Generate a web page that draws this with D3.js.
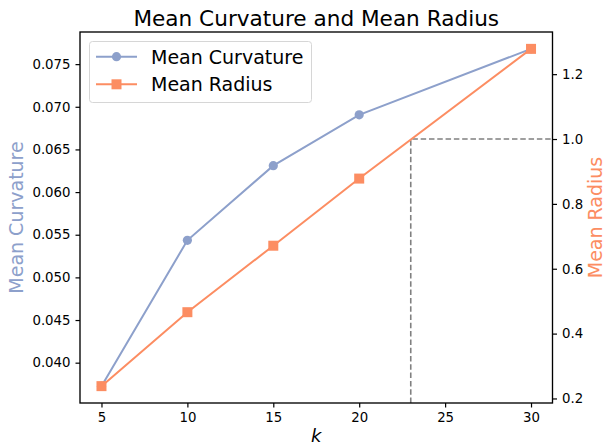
<!DOCTYPE html>
<html>
<head>
<meta charset="utf-8">
<title>Mean Curvature and Mean Radius</title>
<script src="https://d3js.org/d3.v7.min.js"></script>
<style>
  body { margin: 0; background: #fff; }
  text { font-family: "DejaVu Sans", sans-serif; }
</style>
</head>
<body>
<script>
// data
const kValues = [5, 10, 15, 20, 30];
const meanCurvature = [0.03725, 0.05434, 0.0631, 0.06906, 0.07679];
const meanRadius = [0.238, 0.466, 0.671, 0.878, 1.278];
const xTicks = [5, 10, 15, 20, 25, 30];
const leftTicks = [0.040, 0.045, 0.050, 0.055, 0.060, 0.065, 0.070, 0.075];
const rightTicks = [0.2, 0.4, 0.6, 0.8, 1.0, 1.2];
const markK = 23, markR = 1.0;

const blue = "#8da0cb", orange = "#fc8d62";
const W = 606, H = 446;
const axLeft = 80, axRight = 552.5, axTop = 32, axBottom = 403;

const svg = d3.select("body").append("svg").attr("width", W).attr("height", H);

// matplotlib style 5% margins
function pad(ext) { let d = ext[1] - ext[0]; return [ext[0] - d * 0.05, ext[1] + d * 0.05]; }

const x = d3.scaleLinear().domain(pad(d3.extent(kValues))).range([axLeft, axRight]);
const yL = d3.scaleLinear().domain(pad(d3.extent(meanCurvature))).range([axBottom, axTop]);
const yR = d3.scaleLinear().domain(pad(d3.extent(meanRadius))).range([axBottom, axTop]);

// dashed guide
svg.append("path")
    .attr("d", `M${x(markK)},${axBottom}V${yR(markR)}H${axRight}`)
    .attr("fill", "none").attr("stroke", "#808080").attr("stroke-width", 1.6)
    .attr("stroke-dasharray", "5.5,2.8");

// curvature line
const lineL = d3.line().x((d, i) => x(kValues[i])).y(d => yL(d));
svg.append("path").datum(meanCurvature).attr("d", lineL)
    .attr("fill", "none").attr("stroke", blue).attr("stroke-width", 2);
svg.selectAll(".cpt").data(meanCurvature).enter().append("circle")
    .attr("cx", (d, i) => x(kValues[i])).attr("cy", d => yL(d))
    .attr("r", 4.6).attr("fill", blue);

// radius line
const lineR = d3.line().x((d, i) => x(kValues[i])).y(d => yR(d));
svg.append("path").datum(meanRadius).attr("d", lineR)
    .attr("fill", "none").attr("stroke", orange).attr("stroke-width", 2);
svg.selectAll(".rpt").data(meanRadius).enter().append("rect")
    .attr("x", (d, i) => x(kValues[i]) - 5).attr("y", d => yR(d) - 5)
    .attr("width", 10).attr("height", 10).attr("fill", orange);

// axes
const tickFmt = d3.format(".3f");
const gx = svg.append("g").attr("transform", `translate(0,${axBottom})`)
    .call(d3.axisBottom(x).tickValues(xTicks).tickSize(4.5).tickPadding(5));
const gl = svg.append("g").attr("transform", `translate(${axLeft},0)`)
    .call(d3.axisLeft(yL).tickValues(leftTicks).tickFormat(tickFmt).tickSize(4.5).tickPadding(5));
const gr = svg.append("g").attr("transform", `translate(${axRight},0)`)
    .call(d3.axisRight(yR).tickValues(rightTicks).tickFormat(d3.format(".1f")).tickSize(4.5).tickPadding(5));
[gx, gl, gr].forEach(g => {
    g.attr("font-size", null);
    g.select(".domain").remove();
    g.selectAll("line").attr("stroke", "#000").attr("stroke-width", 1.2);
    g.selectAll("text").style("font-size", "13.3px").attr("fill", "#000");
});

// frame
svg.append("rect").attr("x", axLeft).attr("y", axTop)
    .attr("width", axRight - axLeft).attr("height", axBottom - axTop)
    .attr("fill", "none").attr("stroke", "#000").attr("stroke-width", 1.35);

// title and labels
svg.append("text").attr("x", (axLeft + axRight) / 2).attr("y", 26)
    .attr("text-anchor", "middle").style("font-size", "21.6px")
    .text("Mean Curvature and Mean Radius");
svg.append("text").attr("x", (axLeft + axRight) / 2).attr("y", 442)
    .attr("text-anchor", "middle").style("font-size", "18px").attr("font-style", "italic")
    .text("k");
svg.append("text")
    .attr("transform", `translate(23,${(axTop + axBottom) / 2}) rotate(-90)`)
    .attr("text-anchor", "middle").style("font-size", "19px").attr("fill", blue)
    .text("Mean Curvature");
svg.append("text")
    .attr("transform", `translate(602,${(axTop + axBottom) / 2}) rotate(-90)`)
    .attr("text-anchor", "middle").style("font-size", "19px").attr("fill", orange)
    .text("Mean Radius");

// legend
const lg = svg.append("g");
lg.append("rect").attr("x", 89.5).attr("y", 41.5).attr("width", 222).attr("height", 61)
    .attr("rx", 3).attr("fill", "#fff").attr("fill-opacity", 0.8)
    .attr("stroke", "#d6d6d6").attr("stroke-width", 1);
const items = [
    { name: "Mean Curvature", color: blue, shape: "circle", y: 56.7 },
    { name: "Mean Radius", color: orange, shape: "square", y: 84.3 }
];
items.forEach(it => {
    lg.append("line").attr("x1", 96).attr("x2", 137).attr("y1", it.y).attr("y2", it.y)
        .attr("stroke", it.color).attr("stroke-width", 2);
    if (it.shape === "circle") {
        lg.append("circle").attr("cx", 116.5).attr("cy", it.y).attr("r", 4.6).attr("fill", it.color);
    } else {
        lg.append("rect").attr("x", 111.5).attr("y", it.y - 5).attr("width", 10).attr("height", 10).attr("fill", it.color);
    }
    lg.append("text").attr("x", 151).attr("y", it.y + 6.8).style("font-size", "19px").text(it.name);
});
</script>
</body>
</html>
